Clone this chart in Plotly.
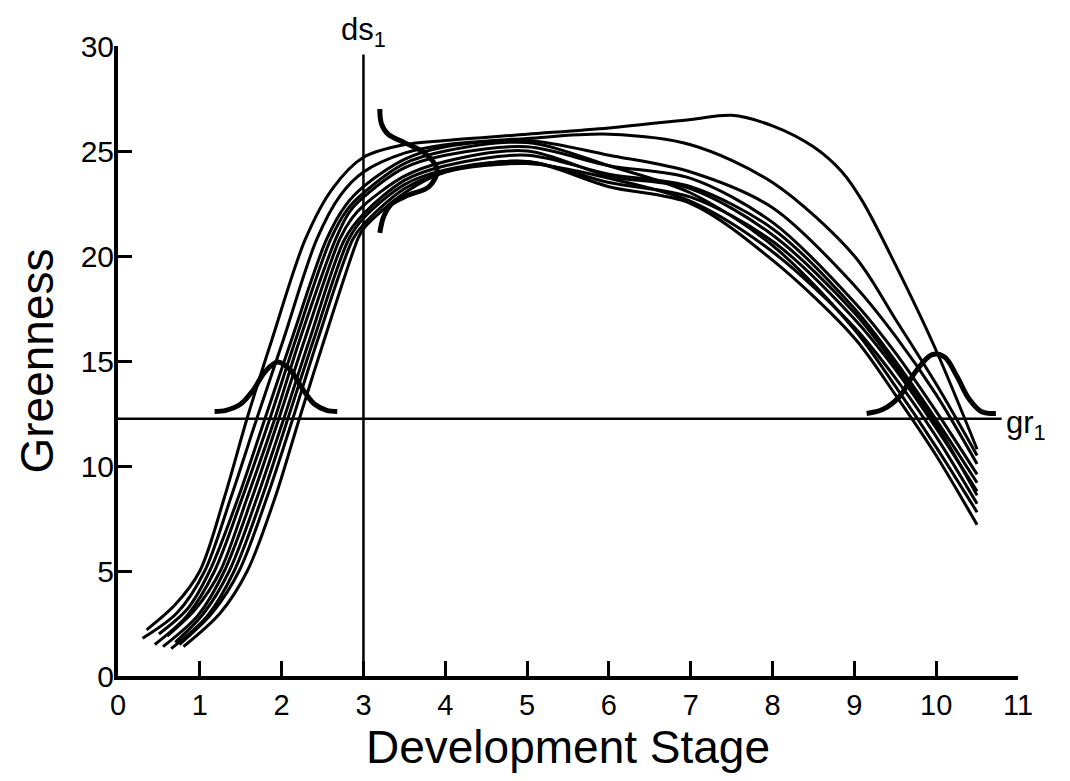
import plotly.graph_objects as go

# ---------------- data ----------------
x_ticks = [0, 1, 2, 3, 4, 5, 6, 7, 8, 9, 10, 11]
y_ticks = [0, 5, 10, 15, 20, 25, 30]

DS1 = 3.0          # development-stage threshold (vertical line)
DS1_TOP = 29.6
GR1 = 12.25        # greenness threshold (horizontal line)
GR1_END = 10.8

# greenness profiles (development stage, greenness)
c01_x = [0.35, 0.70, 1.00, 1.30, 1.58, 1.88, 2.29, 2.62, 3.0, 3.5, 4.0, 5.0, 6.0, 7.0, 7.5, 8.0, 8.5, 8.85, 9.1, 9.5, 10.0, 10.5]
c01_y = [2.2, 3.4, 5.0, 8.5, 12.3, 16.0, 20.8, 23.2, 24.7, 25.3, 25.5, 25.8, 26.1, 26.5, 26.7, 26.2, 25.2, 24.0, 22.6, 19.6, 15.5, 10.8]

c02_x = [0.30, 0.72, 1.06, 1.38, 1.70, 2.02, 2.43, 2.72, 3.0, 3.5, 4.0, 5.0, 6.0, 7.0, 8.0, 9.0, 9.5, 10.0, 10.5]
c02_y = [1.8, 3.0, 5.0, 8.5, 12.3, 16.0, 20.8, 22.9, 24.0, 24.9, 25.3, 25.6, 25.8, 25.3, 23.5, 20.0, 17.0, 13.9, 10.5]

c03_x = [0.50, 0.85, 1.12, 1.47, 1.80, 2.12, 2.55, 2.78, 3.0, 3.5, 4.0, 5.0, 6.0, 7.0, 8.0, 9.0, 9.5, 10.0, 10.5]
c03_y = [2.0, 3.2, 5.0, 8.5, 12.3, 16.0, 20.8, 22.4, 23.3, 24.6, 25.2, 25.5, 24.8, 24.0, 22.3, 18.6, 16.2, 13.4, 10.1]

c04_x = [0.45, 0.85, 1.18, 1.52, 1.86, 2.17, 2.60, 2.80, 3.0, 3.5, 4.0, 5.0, 6.0, 7.0, 8.0, 9.0, 9.5, 10.0, 10.5]
c04_y = [1.5, 2.9, 5.0, 8.5, 12.3, 16.0, 20.8, 22.2, 23.0, 24.4, 25.0, 25.4, 24.3, 23.0, 20.5, 16.5, 13.8, 10.9, 7.8]

c05_x = [0.60, 0.95, 1.25, 1.58, 1.92, 2.22, 2.66, 2.83, 3.0, 3.5, 4.0, 5.0, 6.0, 7.0, 8.0, 9.0, 9.5, 10.0, 10.5]
c05_y = [1.9, 3.2, 5.0, 8.5, 12.3, 16.0, 20.8, 22.1, 22.8, 24.2, 24.8, 25.2, 24.3, 23.7, 21.6, 17.8, 15.4, 12.6, 9.6]

c06_x = [0.55, 0.98, 1.30, 1.64, 1.97, 2.28, 2.71, 2.86, 3.0, 3.5, 4.0, 5.0, 6.0, 7.0, 8.0, 9.0, 9.5, 10.0, 10.5]
c06_y = [1.4, 2.9, 5.0, 8.5, 12.3, 16.0, 20.8, 21.8, 22.4, 23.8, 24.5, 25.0, 23.8, 23.2, 21.0, 17.3, 14.8, 12.0, 8.6]

c07_x = [0.70, 1.05, 1.36, 1.70, 2.03, 2.34, 2.77, 3.0, 3.5, 4.0, 5.0, 6.0, 7.0, 8.0, 9.0, 9.5, 10.0, 10.5]
c07_y = [1.6, 3.0, 5.0, 8.5, 12.3, 16.0, 20.8, 22.0, 23.6, 24.3, 24.8, 23.9, 23.3, 21.3, 17.5, 15.0, 12.2, 9.2]

c08_x = [0.65, 1.10, 1.42, 1.76, 2.08, 2.39, 2.82, 3.0, 3.5, 4.0, 5.0, 6.0, 7.0, 8.0, 9.0, 9.5, 10.0, 10.5]
c08_y = [1.3, 2.9, 5.0, 8.5, 12.3, 16.0, 20.8, 21.8, 23.4, 24.1, 24.5, 23.5, 22.8, 20.7, 17.0, 14.6, 11.8, 8.8]

c09_x = [0.75, 1.15, 1.48, 1.82, 2.14, 2.44, 2.87, 3.0, 3.5, 4.0, 5.0, 6.0, 7.0, 8.0, 9.0, 9.5, 10.0, 10.5]
c09_y = [1.5, 3.0, 5.0, 8.5, 12.3, 16.0, 20.8, 21.5, 23.2, 24.0, 24.4, 23.7, 22.6, 20.2, 16.6, 14.2, 11.4, 8.2]

c10_x = [0.80, 1.25, 1.58, 1.92, 2.22, 2.52, 2.93, 3.0, 3.5, 4.0, 5.0, 6.0, 7.0, 8.0, 9.0, 9.5, 10.0, 10.5]
c10_y = [1.4, 3.0, 5.0, 8.5, 12.3, 16.0, 20.8, 21.3, 23.0, 24.0, 24.5, 23.3, 22.5, 19.8, 16.1, 13.4, 10.5, 7.2]

# distribution sketches
left_bell_x = [1.18, 1.32, 1.50, 1.65, 1.80, 1.95, 2.10, 2.25, 2.40, 2.55, 2.68]
left_bell_y = [12.6, 12.65, 12.95, 13.6, 14.5, 14.95, 14.6, 13.7, 12.95, 12.65, 12.6]

right_bell_x = [9.15, 9.35, 9.55, 9.75, 9.95, 10.10, 10.25, 10.40, 10.55, 10.73]
right_bell_y = [12.5, 12.7, 13.3, 14.5, 15.3, 15.2, 14.3, 13.2, 12.6, 12.5]

side_bell_x = [3.20, 3.22, 3.30, 3.50, 3.75, 3.90, 3.80, 3.55, 3.35, 3.25, 3.20]
side_bell_y = [27.0, 26.3, 25.8, 25.4, 24.9, 24.1, 23.3, 22.9, 22.5, 21.9, 21.1]

curves = [(c01_x, c01_y), (c02_x, c02_y), (c03_x, c03_y), (c04_x, c04_y), (c05_x, c05_y),
          (c06_x, c06_y), (c07_x, c07_y), (c08_x, c08_y), (c09_x, c09_y), (c10_x, c10_y)]

FONT = "Liberation Sans, Arial, Helvetica, sans-serif"

fig = go.Figure()

for cx, cy in curves:
    fig.add_trace(go.Scatter(x=cx, y=cy, mode="lines",
                             line=dict(color="black", width=3, shape="spline", smoothing=0.9),
                             hoverinfo="skip", showlegend=False))

# threshold lines
fig.add_trace(go.Scatter(x=[DS1, DS1], y=[0, DS1_TOP], mode="lines",
                         line=dict(color="black", width=2.5), showlegend=False, hoverinfo="skip"))
fig.add_trace(go.Scatter(x=[0, GR1_END], y=[GR1, GR1], mode="lines",
                         line=dict(color="black", width=2.5), showlegend=False, hoverinfo="skip"))

# distribution curves
for bx, by in [(left_bell_x, left_bell_y), (right_bell_x, right_bell_y), (side_bell_x, side_bell_y)]:
    fig.add_trace(go.Scatter(x=bx, y=by, mode="lines",
                             line=dict(color="black", width=5, shape="spline", smoothing=1.0),
                             showlegend=False, hoverinfo="skip"))

fig.add_annotation(x=DS1, y=DS1_TOP, xref="x", yref="y", yanchor="bottom", xanchor="center",
                   text="ds<sub>1</sub>", showarrow=False, yshift=0,
                   font=dict(family=FONT, size=31, color="black"))
fig.add_annotation(x=GR1_END + 0.03, y=GR1, xref="x", yref="y", yanchor="middle", xanchor="left",
                   text="gr<sub>1</sub>", showarrow=False, yshift=-6,
                   font=dict(family=FONT, size=31, color="black"))

fig.update_xaxes(range=[0, 11], tickvals=x_ticks, ticktext=[str(v) for v in x_ticks],
                 ticks="inside", ticklen=15, tickwidth=3, tickcolor="black",
                 showline=True, linewidth=4, linecolor="black", showgrid=False, zeroline=False,
                 tickfont=dict(family=FONT, size=29, color="black"),
                 title=dict(text="Development Stage", font=dict(family=FONT, size=46, color="black"), standoff=4))
fig.update_yaxes(range=[0, 30], tickvals=y_ticks, ticktext=[str(v) for v in y_ticks],
                 ticks="inside", ticklen=14, tickwidth=3, tickcolor="black",
                 showline=True, linewidth=4, linecolor="black", showgrid=False, zeroline=False,
                 ticklabelstandoff=-6,
                 tickfont=dict(family=FONT, size=30, color="black"),
                 title=dict(text="Greenness", font=dict(family=FONT, size=46, color="black"), standoff=14))

fig.update_layout(width=1070, height=781, margin=dict(l=110, r=60, t=38, b=113),
                  paper_bgcolor="white", plot_bgcolor="white", showlegend=False)

fig.write_html("out.html")
